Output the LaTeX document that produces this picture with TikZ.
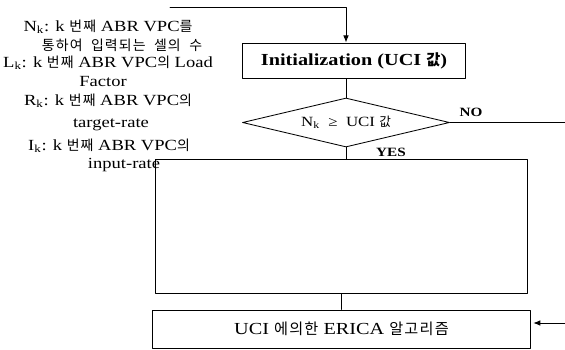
\documentclass[tikz,border=0pt]{standalone}
\usepackage{fontspec}
\setmainfont[FakeStretch=1.2]{Liberation Serif}
\newfontfamily\krfont[Scale=0.9,LetterSpace=8]{Noto Sans CJK KR}
\newcommand\ko[1]{{\krfont #1}}
\usetikzlibrary{arrows.meta,shapes.geometric}
\tikzset{
  note/.style={inner sep=0pt,font=\fontsize{11}{13}\selectfont},
  procbox/.style={draw,line width=0.7pt,inner sep=0pt},
  flow/.style={line width=0.6pt},
  label/.style={inner sep=0pt,font=\fontsize{9}{11}\selectfont\bfseries}
}
\begin{document}
\begin{tikzpicture}[x=0.025cm,y=-0.025cm,line cap=round,line join=round]
  \useasboundingbox (0,0) rectangle (565,349);
  % left notes
  \node[note] (l1) at (108,27) {N\textsubscript{k}: k \ko{번째} ABR VPC\ko{를}};
  \node[note] (l2) at (122,45) {\ko{통하여\ \ 입력되는\ \ 셀의\ \ 수}};
  \node[note] (l3) at (108,63) {L\textsubscript{k}: k \ko{번째} ABR VPC\ko{의} Load};
  \node[note] (l4) at (103,82) {Factor};
  \node[note] (l5) at (108,101) {R\textsubscript{k}: k \ko{번째} ABR VPC\ko{의}};
  \node[note] (l6) at (111,125) {target-rate};
  \node[note] (l7) at (109,146) {I\textsubscript{k}: k \ko{번째} ABR VPC\ko{의}};
  \node[note] (l8) at (124,165) {input-rate};
  % boxes
  \node[procbox,minimum width=5.55cm,minimum height=0.875cm,
        font=\fontsize{12}{14}\selectfont\bfseries] (init) at (354,60.5)
        {Initialization (UCI \ko{값})};
  \node[draw,diamond,line width=0.6pt,aspect=4.2,inner sep=1pt,
        minimum width=5.175cm,minimum height=1.225cm,
        font=\fontsize{10}{12}\selectfont] (test) at (346,122.5)
        {N\textsubscript{k}\ \ ≥\ \ UCI \ko{값}};
  \node[procbox,minimum width=9.275cm,minimum height=3.325cm] (body) at (341.5,226.5) {};
  \node[procbox,minimum width=9.425cm,minimum height=0.95cm,
        font=\fontsize{12}{14}\selectfont] (erica) at (341.5,329)
        {UCI \ko{에의한} ERICA \ko{알고리즘}};
  % connectors
  \coordinate (loopin) at (170,7);
  \coordinate (noout) at (565,122.5);
  \coordinate (ericain) at (565,323);
  \draw[flow,-{Latex[length=5pt,width=4pt]}] (loopin) -| (test.north |- init.north);
  \draw[flow] (test.north |- init.south) -- (test.north);
  \draw[flow] (test.east) -- (noout);
  \draw[flow] (test.south) -- (test.south |- body.north);
  \draw[flow] (body.south) -- (erica.north);
  \draw[flow,-{Latex[length=5pt,width=4pt]}] (ericain) -- ([xshift=2pt]erica.east |- ericain);
  \node[label] (no) at (471,112) {NO};
  \node[label] (yes) at (391,152) {YES};
\end{tikzpicture}
\end{document}
